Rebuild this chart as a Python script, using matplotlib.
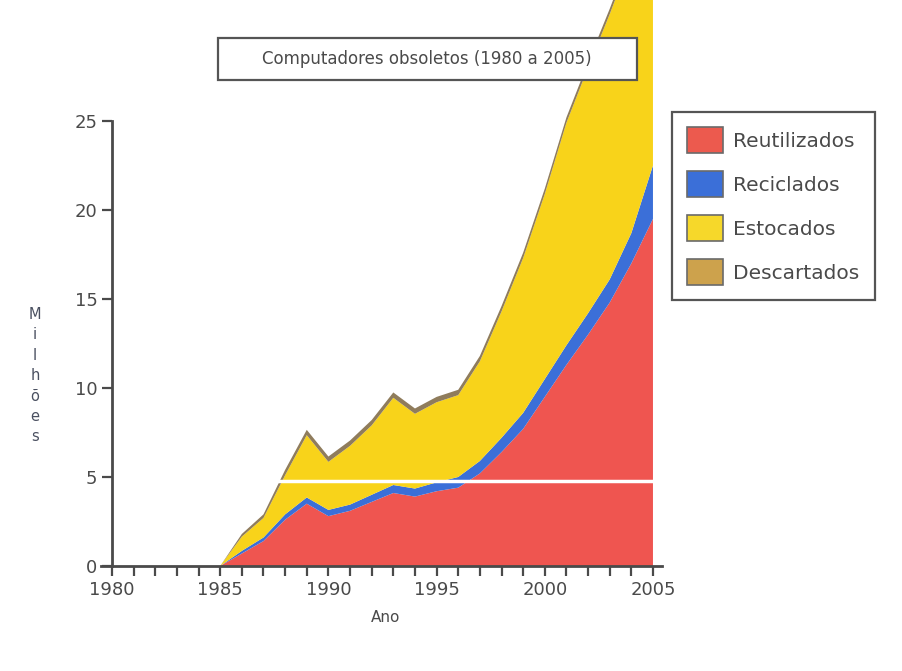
import matplotlib.pyplot as plt
from matplotlib.patches import Patch, Rectangle

# values in millions
years = list(range(1985, 2006))
reutilizados = [0, 0.7, 1.4, 2.6, 3.5, 2.8, 3.1, 3.6, 4.1, 3.9, 4.2,
                4.4, 5.2, 6.4, 7.7, 9.5, 11.3, 13.0, 14.8, 17.0, 19.5]
reciclados = [0, 0.15, 0.2, 0.3, 0.35, 0.35, 0.35, 0.4, 0.45, 0.45, 0.5,
              0.6, 0.7, 0.8, 0.9, 1.0, 1.1, 1.2, 1.3, 1.7, 3.0]
estocados = [0, 0.8, 1.1, 2.2, 3.5, 2.7, 3.3, 3.9, 4.9, 4.2, 4.5,
             4.6, 5.6, 7.1, 8.7, 10.4, 12.5, 13.8, 14.9, 15.5, 15.2]
descartados = [0, 0.15, 0.2, 0.3, 0.3, 0.3, 0.3, 0.3, 0.3, 0.3, 0.3,
               0.3, 0.3, 0.3, 0.3, 0.3, 0.3, 0.3, 0.3, 0.3, 0.3]

labels = ['Reutilizados', 'Reciclados', 'Estocados', 'Descartados']
area_colors = ['#ef5550', '#3b6fd8', '#f8d31a', '#8f7c5c']
legend_colors = ['#ec5a4e', '#3b6fd8', '#f6d82a', '#cda24c']
year_ticks = [1980, 1985, 1990, 1995, 2000, 2005]
value_ticks = [0, 5, 10, 15, 20, 25]

grey = '#4a4a4a'

fig = plt.figure(figsize=(9.02, 6.71), dpi=100)
ax = fig.add_axes([0.1122, 0.1565, 0.6309, 0.8435])

ax.stackplot(years, reutilizados, reciclados, estocados, descartados,
             colors=area_colors, linewidth=0)
# fold mark across the scanned page
ax.hlines(4.8, 1984.8, 2005.0, color='white', lw=2.5, zorder=3)

ax.set_xlim(1979.5, 2005.8)
ax.set_ylim(0, 31.8)

for side in ['top', 'right']:
    ax.spines[side].set_visible(False)
ax.spines['left'].set_position(('data', 1980))
ax.spines['left'].set_bounds(0, 25)
ax.spines['bottom'].set_bounds(1979.5, 2005.4)
for side in ['left', 'bottom']:
    ax.spines[side].set_color(grey)
    ax.spines[side].set_linewidth(2)
    ax.spines[side].set_zorder(4)

ax.set_xticks(year_ticks)
ax.set_xticks(range(1981, 2006), minor=True)
ax.set_yticks(value_ticks)
ax.tick_params(axis='both', which='both', direction='out', length=7, width=1.6,
               colors=grey, labelsize=13, labelcolor=grey)
ax.tick_params(axis='x', pad=4)

ax.set_xlabel('Ano', fontsize=11, color=grey, labelpad=8)
fig.text(0.039, 0.44, 'M\ni\nl\nh\nõ\ne\ns', fontsize=10.5, color='#4a5060',
         ha='center', va='center', linespacing=1.45)

# title box
fig.patches.append(Rectangle((218 / 902, 1 - 80 / 671), 419 / 902, 42 / 671,
                             transform=fig.transFigure, fc='white',
                             ec='#555555', lw=1.6, zorder=5))
fig.text(427 / 902, 1 - 59 / 671, 'Computadores obsoletos (1980 a 2005)',
         fontsize=12, color=grey, ha='center', va='center', zorder=6)

handles = [Patch(facecolor=c, edgecolor='#6a6a6a', lw=1.2) for c in legend_colors]
leg = fig.legend(handles, labels, loc='upper left',
                 bbox_to_anchor=(672 / 902, 1 - 112 / 671), borderaxespad=0,
                 fontsize=14.5, handlelength=1.8, handleheight=1.6,
                 labelspacing=0.9, borderpad=0.75, handletextpad=0.5,
                 fancybox=False, edgecolor='#555555', framealpha=1)
leg.get_frame().set_linewidth(1.6)
for t in leg.get_texts():
    t.set_color(grey)

fig.savefig('out.png', dpi=100)
